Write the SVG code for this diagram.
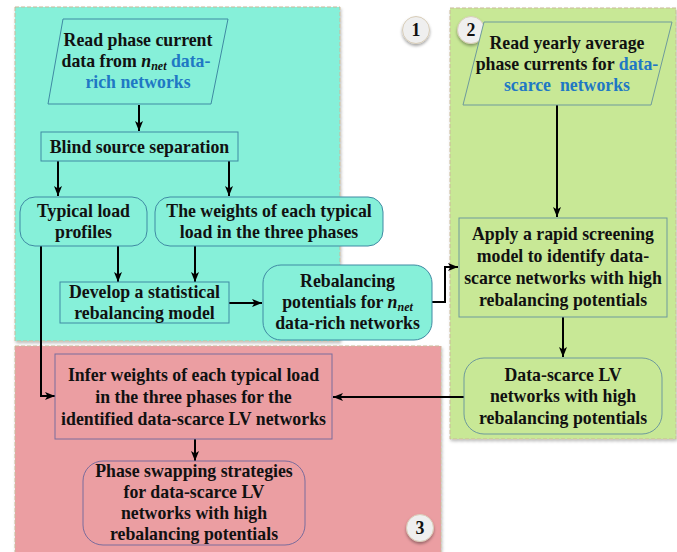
<svg xmlns="http://www.w3.org/2000/svg" width="677" height="552" viewBox="0 0 677 552">
<defs>
<marker id="arr" viewBox="0 0 10 8" refX="10" refY="4" markerWidth="10" markerHeight="8" markerUnits="userSpaceOnUse" orient="auto">
<path d="M0,0 L10,4 L0,8 L2.5,4 Z" fill="#000"/>
</marker>
<filter id="sh" x="-5%" y="-5%" width="110%" height="110%">
<feDropShadow dx="1" dy="2" stdDeviation="1.5" flood-color="#000" flood-opacity="0.25"/>
</filter>
<filter id="bsh" x="-30%" y="-30%" width="160%" height="160%">
<feDropShadow dx="0" dy="2" stdDeviation="1.5" flood-color="#000" flood-opacity="0.35"/>
</filter>
</defs>
<style>
text{font-family:"Liberation Serif","Times New Roman",serif;font-weight:bold;font-size:17.8px;fill:#111;text-anchor:middle}
.blue{fill:#1f78c4}
.it{font-style:italic}
.sub{font-style:italic;font-size:12px}
.panel{stroke:#c9b99a;stroke-width:1;stroke-dasharray:4 2}
.c1{fill:#86f0d9}
.c2{fill:#c8e896}
.c3{fill:#eb9ea2}
.n1{fill:#86f0d9;stroke:#3f8aa3;stroke-width:1}
.n2{fill:#c8e896;stroke:#6e9a9c;stroke-width:1}
.n3{fill:#eb9ea2;stroke:#7a6c9c;stroke-width:1}
.badge{fill:#efefef;stroke:#d8cdb8;stroke-width:1}
.conn{fill:none;stroke:#000;stroke-width:2}
</style>
<rect width="677" height="552" fill="#fff"/>
<g id="panels">
<rect class="panel c1" x="15" y="7" width="325" height="334" filter="url(#sh)"/>
<rect class="panel c2" x="450" y="8" width="226" height="431" filter="url(#sh)"/>
<rect class="panel c3" x="15" y="346" width="426" height="212" filter="url(#sh)"/>
</g>
<g id="badge1"><circle class="badge" cx="416" cy="30" r="13.5" filter="url(#bsh)"/><text x="416" y="36">1</text></g>
<g id="badge2"><circle class="badge" cx="471" cy="30" r="13.5" filter="url(#bsh)"/><text x="471" y="36">2</text></g>
<g id="badge3"><circle class="badge" cx="420" cy="528" r="13.5" filter="url(#bsh)"/><text x="420" y="534">3</text></g>
<g id="connectors">
<path class="conn" d="M139,105 V131" marker-end="url(#arr)"/>
<path class="conn" d="M58,161 V196" marker-end="url(#arr)"/>
<path class="conn" d="M229,161 V196" marker-end="url(#arr)"/>
<path class="conn" d="M118,246 V282" marker-end="url(#arr)"/>
<path class="conn" d="M195,246 V282" marker-end="url(#arr)"/>
<path class="conn" d="M229,303 H262" marker-end="url(#arr)"/>
<path class="conn" d="M432,302 H445 V267 H458" marker-end="url(#arr)"/>
<path class="conn" d="M557,105 V217" marker-end="url(#arr)"/>
<path class="conn" d="M563,317 V357" marker-end="url(#arr)"/>
<path class="conn" d="M464,397 H333" marker-end="url(#arr)"/>
<path class="conn" d="M41,246 V396 H55" marker-end="url(#arr)"/>
<path class="conn" d="M195,439 V461" marker-end="url(#arr)"/>
</g>
<g id="read-rich">
<polygon class="n1" points="63,19 228,19 211,104 48,104"/>
<text x="138" y="46">Read phase current</text>
<text x="136" y="67">data from <tspan class="it">n</tspan><tspan class="sub" dy="3">net</tspan><tspan class="blue" dy="-3"> data-</tspan></text>
<text x="138" y="88" class="blue">rich networks</text>
</g>
<g id="bss">
<rect class="n1" x="41" y="132" width="197" height="29"/>
<text x="139.5" y="153">Blind source separation</text>
</g>
<g id="typical">
<rect class="n1" x="20" y="197" width="127" height="49" rx="15"/>
<text x="83.5" y="217">Typical load</text>
<text x="83.5" y="238">profiles</text>
</g>
<g id="weights">
<rect class="n1" x="155" y="197" width="228" height="49" rx="15"/>
<text x="269" y="217">The weights of each typical</text>
<text x="269" y="238">load in the three phases</text>
</g>
<g id="develop">
<rect class="n1" x="60" y="282" width="169" height="41"/>
<text x="144.5" y="298">Develop a statistical</text>
<text x="144.5" y="319">rebalancing model</text>
</g>
<g id="rebal-rich">
<rect class="n1" x="263" y="265" width="169" height="75" rx="18"/>
<text x="347.5" y="287">Rebalancing</text>
<text x="347.5" y="308">potentials for <tspan class="it">n</tspan><tspan class="sub" dy="3">net</tspan></text>
<text x="347.5" y="329">data-rich networks</text>
</g>
<g id="read-scarce">
<polygon class="n2" points="484,22 672,22 651,105 463,105"/>
<text x="567" y="49">Read yearly average</text>
<text x="567" y="70">phase currents for <tspan class="blue">data-</tspan></text>
<text x="567" y="91" class="blue" xml:space="preserve">scarce  networks</text>
</g>
<g id="apply">
<rect class="n2" x="459" y="218" width="208" height="99"/>
<text x="563" y="240">Apply a rapid screening</text>
<text x="563" y="262">model to identify data-</text>
<text x="563" y="284">scarce networks with high</text>
<text x="563" y="306">rebalancing potentials</text>
</g>
<g id="data-scarce">
<rect class="n2" x="464" y="358" width="198" height="76" rx="20"/>
<text x="563" y="381">Data-scarce LV</text>
<text x="563" y="402">networks with high</text>
<text x="563" y="424">rebalancing potentials</text>
</g>
<g id="infer">
<rect class="n3" x="55" y="354" width="277" height="85"/>
<text x="193.5" y="381">Infer weights of each typical load</text>
<text x="193.5" y="403">in the three phases for the</text>
<text x="193.5" y="425">identified data-scarce LV networks</text>
</g>
<g id="swap">
<rect class="n3" x="83" y="461" width="222" height="84" rx="20"/>
<text x="194" y="477">Phase swapping strategies</text>
<text x="194" y="498">for data-scarce LV</text>
<text x="194" y="519">networks with high</text>
<text x="194" y="540">rebalancing potentials</text>
</g>
</svg>
